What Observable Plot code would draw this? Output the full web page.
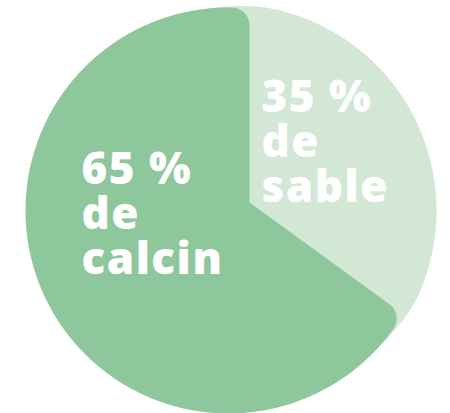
<!DOCTYPE html>
<html>
<head>
<meta charset="utf-8">
<script src="https://cdn.jsdelivr.net/npm/d3@7"></script>
<script src="https://cdn.jsdelivr.net/npm/@observablehq/plot@0.6"></script>
<style>
  html, body { margin: 0; padding: 0; background: #ffffff; }
  #chart svg { display: block; }
  #chart svg text { letter-spacing: 1.5px; }
</style>
</head>
<body>
<div id="chart"></div>
<script>
// ---- data ----
const categories = ["sable", "calcin"];
const values = [35, 65];
const colors = ["#d2e7d4", "#8ec79c"];
const joinWord = "de";

// ---- layout (pixel frame -> data units, radius of dark slice = 1) ----
const W = 450, H = 413;
const PX = 203;               // pixels per unit
const CX = 228, CY = 210;     // pie centre in pixels
const apex = [21 / PX, 8 / PX];     // slices meet slightly off-centre
const rCorner = 18 / PX;            // rounded outer corners of big slice
const lightCenter = [2 / PX, 0];
const lightR = 206 / PX;

// angles (clockwise from 12 o'clock) derived from the values
const pie = d3.pie().sort(null).value(d => d)(values);
const a0 = pie[1].startAngle;   // boundary between sable and calcin

const dir = t => [Math.sin(t), Math.cos(t)];
const add = (a, b) => [a[0] + b[0], a[1] + b[1]];
const mul = (a, k) => [a[0] * k, a[1] * k];
const dot = (a, b) => a[0] * b[0] + a[1] * b[1];

function rayCircleT(P, u, c, r) {
  const A = [P[0] - c[0], P[1] - c[1]];
  const b = dot(A, u);
  return -b + Math.sqrt(b * b - dot(A, A) + r * r);
}

function corner(P, u, n, R, rc) {
  const A = add(P, mul(n, rc));
  const b = dot(A, u);
  const t = -b + Math.sqrt(b * b - dot(A, A) + (R - rc) * (R - rc));
  const Q = add(A, mul(u, t));
  const TL = add(P, mul(u, t));
  const TC = mul(Q, R / (R - rc));
  return {Q, TL, TC};
}

function arcAround(Q, from, to, steps) {
  const f = Math.atan2(from[1] - Q[1], from[0] - Q[0]);
  const g = Math.atan2(to[1] - Q[1], to[0] - Q[0]);
  let d = g - f;
  while (d > Math.PI) d -= 2 * Math.PI;
  while (d < -Math.PI) d += 2 * Math.PI;
  const r = Math.hypot(from[0] - Q[0], from[1] - Q[1]);
  const pts = [];
  for (let i = 0; i <= steps; i++) {
    const a = f + d * i / steps;
    pts.push([Q[0] + r * Math.cos(a), Q[1] + r * Math.sin(a)]);
  }
  return pts;
}

// ---- big slice (calcin) outline ----
const u1 = dir(0), n1 = [-1, 0];
const u2 = dir(a0), n2 = [Math.cos(a0), -Math.sin(a0)];
const c2 = corner(apex, u2, n2, 1, rCorner);
const c1 = corner(apex, u1, n1, 1, rCorner);
const darkPts = [apex];
darkPts.push(...arcAround(c2.Q, c2.TL, c2.TC, 24));
let th0 = Math.atan2(c2.TC[0], c2.TC[1]);
let th1 = Math.atan2(c1.TC[0], c1.TC[1]);
if (th0 < 0) th0 += 2 * Math.PI;
if (th1 <= th0) th1 += 2 * Math.PI;
const nBig = 400;
for (let i = 1; i < nBig; i++) {
  darkPts.push(dir(th0 + (th1 - th0) * i / nBig));
}
darkPts.push(...arcAround(c1.Q, c1.TC, c1.TL, 24));

// ---- small slice (sable) outline, tucked under the big slice's corners ----
const ext = 8 * Math.PI / 180, blend = 12 * Math.PI / 180;
const lightPts = [apex];
const nL = 240;
for (let i = 0; i <= nL; i++) {
  const t = -ext + (a0 + 2 * ext) * i / nL;
  const rl = rayCircleT([0, 0], dir(t), lightCenter, lightR);
  const w = Math.max(0, Math.min(1, (t + ext) / (ext + blend), (a0 + ext - t) / (ext + blend)));
  const s = w * w * (3 - 2 * w);
  const r = s * rl + (1 - s) * 1;
  lightPts.push(mul(dir(t), r));
}

const toRows = (pts, slice) => pts.map(([x, y]) => ({x, y, slice}));
const lightRows = toRows(lightPts, categories[0]);
const darkRows = toRows(darkPts, categories[1]);

// ---- labels ----
const labels = categories.map((c, i) => ({
  slice: c,
  text: `${values[i]} %\n${joinWord}\n${c}`
}));
const labelPos = {
  sable:  {x: (261 - CX) / PX, y: (CY - 79) / PX},
  calcin: {x: (81 - CX) / PX,  y: (CY - 151) / PX}
};
labels.forEach(d => Object.assign(d, labelPos[d.slice]));

const chart = Plot.plot({
  width: W,
  height: H,
  margin: 0,
  x: {domain: [(0 - CX) / PX, (W - CX) / PX], axis: null},
  y: {domain: [(CY - H) / PX, CY / PX], axis: null},
  color: {domain: categories, range: colors},
  style: {background: "#ffffff"},
  marks: [
    Plot.line(lightRows, {x: "x", y: "y", fill: "slice", stroke: null, curve: "linear-closed"}),
    Plot.line(darkRows, {x: "x", y: "y", fill: "slice", stroke: null, curve: "linear-closed"}),
    Plot.text(labels, {
      x: "x", y: "y", text: "text",
      textAnchor: "start", lineAnchor: "top", lineHeight: 1.03,
      fontSize: 44, fontWeight: 800, fontFamily: "'Open Sans', Lato, sans-serif",
      fill: "#ffffff"
    })
  ]
});
document.getElementById("chart").appendChild(chart);
</script>
</body>
</html>
